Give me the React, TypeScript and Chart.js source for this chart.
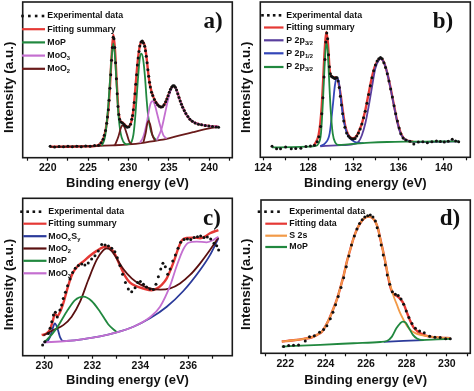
import React, { useEffect, useRef } from 'react';
import { Chart, registerables } from 'chart.js';
Chart.register(...registerables);

// ---------------- Panel a (Mo 3d) ----------------
const aExpX = [220.3,220.85,221.4,221.95,222.5,223.05,223.6,224.15,224.7,225.25,225.8,226.3,226.6,226.85,227.0,227.15,227.3,227.4,227.5,227.6,227.7,227.8,227.9,228.0,228.1,228.2,228.3,228.4,228.5,228.6,228.7,228.8,228.9,229.05,229.25,229.45,229.65,229.85,230.05,230.25,230.4,230.5,230.6,230.7,230.8,230.9,231.0,231.1,231.2,231.3,231.4,231.55,231.7,231.85,232.0,232.1,232.2,232.3,232.4,232.5,232.6,232.7,232.85,233.0,233.2,233.4,233.6,233.8,234.0,234.2,234.4,234.6,234.75,234.9,235.05,235.2,235.35,235.5,235.65,235.8,235.95,236.1,236.25,236.4,236.55,236.7,236.9,237.1,237.35,237.6,237.9,238.25,238.65,239.05,239.5,239.95,240.4,240.85,241.15];
const aExpY = [9.6,9.2,9.5,9.3,9.6,9.4,9.7,9.4,9.8,9.6,10.1,10.3,11.8,14.0,16.5,19.5,24.0,28.0,32.5,38.5,46.0,54.5,63.5,71.5,78.0,77.0,71.5,62.0,52.0,42.5,34.5,29.5,26.5,24.8,24.3,23.3,22.2,21.6,21.9,23.5,26.5,29.0,32.5,37.0,42.5,48.5,54.5,60.5,65.0,69.0,72.5,75.0,75.6,74.3,72.3,69.5,66.0,62.0,57.5,53.5,49.8,46.8,43.5,41.5,39.0,37.0,35.6,34.7,34.2,34.4,35.6,37.5,39.3,41.3,43.5,45.4,46.8,47.5,47.6,46.6,44.9,42.6,40.2,38.0,35.9,34.1,32.0,30.1,28.3,26.6,25.3,24.3,23.5,23.1,22.6,22.4,22.0,21.8,21.6];
const aFitX = [220.3,222.35,224.4,226.05,226.45,226.9,227.2,227.5,227.7,227.9,228.12,228.33,228.55,228.75,228.95,229.25,229.6,229.95,230.4,230.6,230.8,231.0,231.2,231.42,231.7,232.04,232.25,232.45,232.66,233.07,233.5,234.1,234.52,234.93,235.34,235.63,235.96,236.37,236.78,237.2,237.8,238.45,239.25,240.1,241.1];
const aFitY = [9.4,9.4,9.6,10.0,11.0,14.6,20.8,32.3,46.9,65.6,79.5,69.8,49.0,32.3,26.0,24.5,22.8,21.8,26.0,32.3,42.7,55.2,65.6,72.9,75.4,71.9,64.6,55.2,47.9,40.6,36.5,34.2,36.5,41.7,46.5,47.3,44.8,38.5,33.3,29.2,25.6,24.0,22.9,22.3,21.9];
const aMoPX = [226.7,227.09,227.3,227.51,227.71,227.92,228.12,228.33,228.54,228.74,229.03,229.36,229.77,230.19,230.6,230.8,231.01,231.22,231.42,231.6,231.83,232.04,232.25,232.45,232.74,233.07,233.48];
const aMoPY = [10.0,15.6,24.0,36.5,51.0,65.6,74.0,65.6,46.9,30.2,17.7,12.5,10.9,11.3,16.7,26.0,40.6,55.2,65.6,67.7,63.5,53.1,38.5,28.1,19.8,15.6,13.3];
const aMoO3aX = [231.42,231.83,232.25,232.54,232.74,232.95,233.2,233.48,233.9,234.31,234.72];
const aMoO3aY = [11.8,15.6,24.0,32.3,36.5,37.9,36.5,31.3,22.9,16.7,14.5];
const aMoO3bX = [233.48,234.1,234.52,234.93,235.22,235.55,235.88,236.29,236.78,237.2,237.81,238.43,239.26,240.08,241.11];
const aMoO3bY = [13.3,20.8,30.2,39.6,44.8,47.3,45.8,39.6,33.3,29.2,25.6,24.0,22.9,22.3,22.1];
const aMoO2aX = [228.33,228.74,229.03,229.24,229.48,229.77,230.1,230.39];
const aMoO2aY = [10.4,15.6,20.8,22.8,21.8,17.7,12.5,11.0];
const aMoO2bX = [231.83,232.12,232.33,232.49,232.7,232.95,233.28];
const aMoO2bY = [12.0,17.7,24.0,25.6,22.9,16.7,13.1];
const aBgX = [220.3,222,224,226,228,230,232,234,236,238,240,241.1];
const aBgY = [9.3,9.4,9.6,9.8,10.2,10.8,12.0,13.6,16.0,18.5,20.8,21.8];
const aTicks = [217.5,220,222.5,225,227.5,230,232.5,235,237.5,240,242.5];
const aMajor = [220,225,230,235,240];

// ---------------- Panel b (P 2p) ----------------
const bExpX = [124.8,125.2,125.55,126.0,126.5,126.9,127.35,127.8,128.2,128.55,128.8,128.95,129.1,129.2,129.3,129.4,129.48,129.56,129.64,129.72,129.8,129.88,129.96,130.05,130.15,130.25,130.35,130.45,130.55,130.65,130.75,130.85,130.95,131.05,131.15,131.25,131.4,131.55,131.7,131.85,132.0,132.15,132.3,132.45,132.6,132.75,132.9,133.05,133.2,133.35,133.5,133.65,133.8,133.95,134.1,134.25,134.4,134.55,134.7,134.85,135.0,135.15,135.3,135.45,135.6,135.75,135.9,136.05,136.2,136.4,136.65,137.0,137.35,137.75,138.15,138.55,138.95,139.35,139.7,140.05,140.4,140.75,141.05,141.32];
const bExpY = [9.6,8.1,8.0,9.1,8.1,8.2,8.3,9.4,9.8,10.2,12.5,15.5,22,30,40,53,64,75,80.5,77,67,59.5,55,53.5,53,52.5,52,52.5,52.5,50.5,46.5,41,35.5,30,25.5,21.5,18,16,15,14.3,14.2,14.5,16,18,20.5,23.5,27.5,31.5,36.5,42,47.5,52.5,57,60.5,63,64.5,65.2,64.5,62,59,55,50.5,45.5,40.5,35,30,25.5,21,17.5,14.8,13.5,12.8,11.0,12.3,12.5,11.8,12.4,12.9,12.6,12.3,12.8,14.0,12.9,12.5];
const bFitX = [128.5,128.78,128.93,129.07,129.2,129.31,129.46,129.6,129.75,129.9,130.05,130.25,130.45,130.6,130.75,130.9,131.08,131.29,131.5,131.7,131.88,132.05,132.3,132.47,132.76,133.06,133.35,133.65,133.94,134.24,134.44,134.68,134.97,135.27,135.56,135.86,136.15,136.45,136.89,137.3];
const bFitY = [10.0,13.5,17,24,35,49,69.8,81.3,74,57.3,53.5,52.7,52.7,51.5,47,40.6,31,22,17.5,15.3,14.6,14.8,16.3,18.75,24,32.3,42.7,53.1,60.4,64,64.6,62.5,56.25,46.9,36.5,26,18.75,14.6,12.9,12.5];
const bGreenX = [124.8,126.5,128.0,128.63,128.93,129.13,129.31,129.46,129.6,129.72,129.84,129.99,130.17,130.4,130.7,131.5,132.5,133.5,135.0,137.0,139.0,141.32];
const bGreenY = [8.9,9.1,9.4,9.8,11.5,17.7,38.5,61.5,74.4,69.8,53.1,32.3,17.7,11.9,10.4,10.8,11.4,11.9,12.3,12.5,12.6,12.7];
const bBlueX = [129.07,129.5,129.9,130.17,130.37,130.55,130.73,130.9,131.14,131.43,131.88,132.3,132.9];
const bBlueY = [9.7,11.5,17.7,34.4,48.0,52.7,49.0,38.5,26.0,17.7,13.5,11.9,11.6];
const bPurpleX = [129.07,130.5,132.0,132.47,132.76,133.06,133.35,133.65,133.94,134.24,134.44,134.68,134.97,135.27,135.56,135.86,136.15,136.45,136.89,137.63,141.32];
const bPurpleY = [9.6,10.2,11.0,12.5,16.7,24,34.4,46.9,58.3,63.5,64.4,62.5,56.25,46.5,36,25.6,18.1,14.6,12.9,12.3,12.7];
const bTicks = [124,126,128,130,132,134,136,138,140,142];
const bMajor = [124,128,132,136,140];

// ---------------- Panel c (Mo 3d, sample 2) ----------------
const cExpX = [229.93,230.03,230.17,230.24,230.31,230.38,230.46,230.54,230.65,230.72,230.79,230.88,230.97,231.07,231.18,231.29,231.42,231.56,231.69,231.83,231.97,232.11,232.25,232.39,232.53,232.67,232.81,232.94,233.04,233.15,233.26,233.38,233.5,233.64,233.78,233.89,234.0,234.13,234.26,234.4,234.54,234.65,234.75,234.85,234.94,235.04,235.14,235.24,235.35,235.46,235.57,235.68,235.82,235.96,236.1,236.24,236.38,236.51,236.65,236.79,236.93,237.07,237.18,237.26];
const cExpY = [9.3,11.3,16.5,19.6,23.7,27.8,29.5,26.6,30.9,34.0,38.1,41.9,46.0,50.1,54.2,56.7,58.4,59.4,58.8,60.0,62.5,64.5,67.4,71.5,71.1,70.5,69.1,67.0,63.3,58.4,53.0,48.0,43.9,42.3,44.7,48.0,48.5,46.8,45.2,43.9,43.7,46.8,51.5,56.3,59.8,57.7,53.0,56.3,61.2,65.0,69.1,72.8,74.6,74.8,74.6,75.7,76.3,76.7,75.7,76.1,74.8,72.2,70.7,68.0];
const cFitX = [229.89,230.1,230.24,230.35,230.44,230.54,230.65,230.79,230.93,231.07,231.21,231.42,231.63,231.9,232.18,232.46,232.6,232.74,232.94,233.15,233.36,233.57,233.85,234.13,234.47,234.68,234.89,235.1,235.31,235.44,235.58,235.72,235.93,236.21,236.49,236.69,236.9,237.25];
const cFitY = [15.5,16.5,19,24,28.5,27.2,29.5,35,42.5,49.5,54.5,58.5,61,64.5,67.5,69.8,70.2,69.3,65.5,58.5,52,47.8,45.5,44.2,43.2,44.2,46.5,50.5,57.7,62.9,69.1,73.8,75.5,75.7,75.3,76.3,78.4,80.4];
const cNavyX = [229.96,230.1,230.24,230.35,230.44,230.54,230.65,230.79,231.63,232.32,233.01,233.71,234.4,235.1,235.79,236.49,236.9,237.25];
const cNavyY = [10.9,11.3,14.4,19.6,22.7,20.0,14.4,11.8,13.0,14.6,17.1,20.6,25.8,33.0,42.7,55.7,64.9,75.3];
const cBrownX = [229.96,230.38,230.79,231.14,231.49,231.83,232.18,232.46,232.6,232.81,233.01,233.29,233.64,233.99,234.4,234.82,235.24,235.65,236.07,236.49,236.9,237.25];
const cBrownY = [15.1,18.6,21.6,26.8,36.1,49.5,61.9,68.0,69.1,67.4,62.9,56.3,50.5,46.8,44.3,43.5,44.3,47.4,52.6,59.8,68.0,75.7];
const cGreenX = [229.96,230.1,230.51,230.93,231.28,231.63,231.97,232.32,232.67,233.01];
const cGreenY = [11.0,12.5,19.6,29.9,37.1,39.2,36.5,29.9,22.0,17.3];
const cPurpleX = [229.96,230.93,231.63,232.32,233.01,233.71,234.4,234.82,235.24,235.51,235.79,236.0,236.35,236.76,237.04,237.25];
const cPurpleY = [10.9,11.8,13.0,14.6,17.1,20.6,26.5,33.0,46.0,58.0,68.5,72.5,73.2,72.8,74.2,76.3];
const cTicks = [230,231,232,233,234,235,236,237];
const cMajor = [230,232,234,236];

// ---------------- Panel d (S 2s) ----------------
const dExpX = [221.92,222.17,222.41,222.66,222.99,223.2,223.44,223.7,223.9,224.06,224.23,224.36,224.49,224.62,224.76,224.89,225.02,225.15,225.28,225.42,225.55,225.68,225.81,225.94,226.08,226.21,226.34,226.46,226.55,226.65,226.75,226.85,226.95,227.05,227.17,227.3,227.45,227.59,227.73,227.86,227.99,228.12,228.27,228.44,228.65,228.88,229.15,229.41,229.67,229.94,230.17];
const dExpY = [6.8,7.4,7.6,7.8,10.4,13.1,13.6,15.9,17.6,20.1,24.4,28.6,33.3,38.6,44.3,50.6,57.6,64.4,71.4,77.1,81.6,85.0,87.5,89.2,90.0,90.5,89.2,86.7,82.4,77.3,71.4,65.0,58.7,52.3,46.4,41.7,40.0,39.2,37.1,33.7,29.4,25.2,21.4,18.4,16.7,15.5,13.3,12.7,12.5,11.7,11.7];
const dFitX = [221.83,222.41,222.91,223.32,223.57,223.82,223.98,224.19,224.39,224.56,224.72,224.89,225.05,225.22,225.38,225.55,225.71,225.91,226.13,226.29,226.46,226.59,226.7,226.83,226.95,227.1,227.23,227.36,227.53,227.69,227.86,228.02,228.19,228.35,228.6,228.85,229.18,229.67,230.17];
const dFitY = [10.0,10.8,11.7,12.7,14.2,16.3,19.5,24.8,31.1,36.9,43.9,51.9,60.8,68.6,75.6,81.4,85.2,88.3,89.4,88.8,86.2,82.0,75.6,68.2,60.8,50.5,43.5,40.2,39.0,37.1,34.0,28.5,23.0,19.0,15.9,14.2,13.1,12.5,12.1];
const dS2sX = [221.83,222.41,222.91,223.32,223.57,223.82,223.98,224.19,224.39,224.56,224.72,224.89,225.05,225.22,225.38,225.55,225.71,225.91,226.13,226.29,226.46,226.59,226.7,226.83,226.95,227.07,227.2,227.36,227.53,227.69,227.86,228.02,228.19,228.44,228.68,229.18,229.67,230.17];
const dS2sY = [10.0,10.8,11.7,12.7,14.2,16.3,19.5,24.8,31.1,36.9,43.9,51.9,60.8,68.6,75.6,81.4,85.2,88.3,89.4,88.8,86.2,82.0,75.6,68.2,60.8,53.4,46.0,39.0,33.3,28.0,23.7,20.1,17.4,15.3,14.2,13.1,12.5,12.1];
const dMoPX = [221.83,223.73,225.38,226.7,227.03,227.28,227.5,227.69,227.82,227.96,228.11,228.32,228.52,228.77,229.51,230.17];
const dMoPY = [6.8,7.9,8.9,9.7,10.3,13.1,18.4,21.6,22.7,22.0,18.9,14.2,11.9,10.9,11.3,11.7];
const dBgX = [226.87,227.86,228.85];
const dBgY = [9.76,10.34,10.92];
const dTicks = [221,222,223,224,225,226,227,228,229,230,231];
const dMajor = [222,224,226,228,230];

// ---------------- Legends ----------------
type Seg = [string, boolean];
type LegItem = { label: Seg[]; color: string; dotted?: boolean };
const legA: LegItem[] = [
  { label: [['Experimental data', false]], color: '#111', dotted: true },
  { label: [['Fitting summary', false]], color: '#e53935' },
  { label: [['MoP', false]], color: '#21883f' },
  { label: [['MoO', false], ['3', true]], color: '#c46fd0' },
  { label: [['MoO', false], ['2', true]], color: '#6a1b1b' },
];
const legB: LegItem[] = [
  { label: [['Experimental data', false]], color: '#111', dotted: true },
  { label: [['Fitting summary', false]], color: '#e53935' },
  { label: [['P 2p', false], ['3/2', true]], color: '#5a3f9e' },
  { label: [['P 2p', false], ['1/2', true]], color: '#3346b8' },
  { label: [['P 2p', false], ['3/2', true]], color: '#21883f' },
];
const legC: LegItem[] = [
  { label: [['Experimental data', false]], color: '#111', dotted: true },
  { label: [['Fitting summary', false]], color: '#e53935' },
  { label: [['MoO', false], ['x', true], ['S', false], ['y', true]], color: '#2b3a9a' },
  { label: [['MoO', false], ['2', true]], color: '#5a1010' },
  { label: [['MoP', false]], color: '#21883f' },
  { label: [['MoO', false], ['3', true]], color: '#c46fd0' },
];
const legD: LegItem[] = [
  { label: [['Experimental data', false]], color: '#111', dotted: true },
  { label: [['Fitting data', false]], color: '#e53935' },
  { label: [['S 2s', false]], color: '#f29a48' },
  { label: [['MoP', false]], color: '#21883f' },
];

const SANS = '"Liberation Sans", Arial, sans-serif';

const decoPlugin = {
  id: 'panelDeco',
  afterDraw(chart: any, _a: any, o: any) {
    const { ctx, chartArea } = chart;
    ctx.save();
    ctx.strokeStyle = '#1a1a1a';
    ctx.lineWidth = 1.6;
    ctx.strokeRect(chartArea.left, chartArea.top, chartArea.right - chartArea.left, chartArea.bottom - chartArea.top);
    const items = o.items || [];
    items.forEach((it: any, i: number) => {
      const y = o.rows[i];
      if (it.dotted) {
        ctx.fillStyle = '#111';
        const [d0, d1] = o.dotX;
        for (let k = 0; k < 4; k++) {
          const cx = d0 + k * ((d1 - d0) / 3);
          ctx.fillRect(cx - 1.3, y - 1.3, 2.6, 2.6);
        }
      } else {
        ctx.strokeStyle = it.color;
        ctx.lineWidth = 2.2;
        ctx.beginPath();
        ctx.moveTo(o.lineX[0], y);
        ctx.lineTo(o.lineX[1], y);
        ctx.stroke();
      }
      let tx = o.textX;
      ctx.fillStyle = '#111';
      ctx.textBaseline = 'middle';
      ctx.textAlign = 'left';
      it.label.forEach(([t, sub]: Seg) => {
        ctx.font = sub ? `bold 5.8px ${SANS}` : `bold 8.8px ${SANS}`;
        ctx.fillText(t, tx, sub ? y + 2.8 : y);
        tx += ctx.measureText(t).width + (sub ? 0.3 : 0);
      });
    });
    ctx.font = 'bold 23px "Liberation Serif", "Times New Roman", serif';
    ctx.textAlign = 'center';
    ctx.textBaseline = 'middle';
    ctx.fillStyle = '#111';
    ctx.fillText(o.tag, o.tagX, o.tagY);
    ctx.restore();
  },
};

const pts = (xs: number[], ys: number[]) => {
  const n = Math.min(xs.length, ys.length);
  const out: { x: number; y: number }[] = [];
  for (let i = 0; i < n; i++) out.push({ x: xs[i], y: ys[i] });
  return out;
};
const expSet = (xs: number[], ys: number[]) => ({
  data: pts(xs, ys), showLine: false, pointRadius: 1.5, pointBackgroundColor: '#111', pointBorderWidth: 0, borderColor: '#111',
});
const lineSet = (xs: number[], ys: number[], color: string, w = 1.8) => ({
  data: pts(xs, ys), showLine: true, pointRadius: 0, borderColor: color, borderWidth: w, cubicInterpolationMode: 'monotone', fill: false,
});

type PanelDef = {
  left: number; top: number; w: number; h: number;
  xmin: number; xmax: number; ymin: number; ymax: number;
  ticks: number[]; major: number[];
  yW: number; padR: number; padT: number; xH: number; titlePadB: number;
  datasets: any[];
  deco: any;
};

const RED = '#e53935';
const GREEN = '#21883f';

const panels: PanelDef[] = [
  {
    left: 0, top: 0, w: 237, h: 195, xmin: 216.9, xmax: 242.85, ymin: 2.5, ymax: 100,
    ticks: aTicks, major: aMajor, yW: 22.7, padR: 4.7, padT: 2, xH: 37.3, titlePadB: 4,
    datasets: [
      expSet(aExpX, aExpY),
      lineSet(aMoO2aX, aMoO2aY, '#6a1b1b'),
      lineSet(aMoO2bX, aMoO2bY, '#6a1b1b'),
      lineSet(aMoO3aX, aMoO3aY, '#c46fd0'),
      lineSet(aMoO3bX, aMoO3bY, '#c46fd0'),
      lineSet(aMoPX, aMoPY, GREEN),
      lineSet(aBgX, aBgY, '#6a1b1b'),
      lineSet(aFitX, aFitY, RED, 2.4),
    ],
    deco: { items: legA, rows: [16, 29.2, 42.4, 55.6, 68.8], dotX: [22.5, 43], lineX: [22, 45], textX: 47.3, tag: 'a)', tagX: 213, tagY: 22 },
  },
  {
    left: 237, top: 0, w: 237, h: 195, xmin: 123.76, xmax: 142.35, ymin: 2.7, ymax: 100,
    ticks: bTicks, major: bMajor, yW: 23.3, padR: 3.7, padT: 2, xH: 37.7, titlePadB: 4,
    datasets: [
      expSet(bExpX, bExpY),
      lineSet(bGreenX, bGreenY, GREEN),
      lineSet(bBlueX, bBlueY, '#3346b8'),
      lineSet(bPurpleX, bPurpleY, '#5a3f9e'),
      lineSet(bFitX, bFitY, RED, 2.4),
    ],
    deco: { items: legB, rows: [15.3, 27.5, 40.3, 53.3, 67], dotX: [25.5, 43], lineX: [27, 46.5], textX: 49.3, tag: 'b)', tagX: 206, tagY: 22 },
  },
  {
    left: 0, top: 195, w: 237, h: 196, xmin: 229.1, xmax: 237.83, ymin: 2.7, ymax: 100,
    ticks: cTicks, major: cMajor, yW: 22.7, padR: 4.7, padT: 3.3, xH: 35.3, titlePadB: 3,
    datasets: [
      expSet(cExpX, cExpY),
      lineSet(cPurpleX, cPurpleY, '#c46fd0'),
      lineSet(cGreenX, cGreenY, GREEN),
      lineSet(cBrownX, cBrownY, '#5a1010'),
      lineSet(cNavyX, cNavyY, '#2b3a9a'),
      lineSet(cFitX, cFitY, RED, 2.4),
    ],
    deco: { items: legC, rows: [16.7, 28.7, 41.2, 53.5, 65.8, 78.3], dotX: [21.5, 40], lineX: [23.3, 46.5], textX: 48.3, tag: 'c)', tagX: 212, tagY: 24 },
  },
  {
    left: 237, top: 195, w: 237, h: 196, xmin: 220.8, xmax: 231.16, ymin: 2.5, ymax: 100,
    ticks: dTicks, major: dMajor, yW: 24, padR: 3.7, padT: 5, xH: 37.7, titlePadB: 3,
    datasets: [
      expSet(dExpX, dExpY),
      lineSet(dMoPX, dMoPY, GREEN),
      lineSet(dBgX, dBgY, '#2b3a9a'),
      lineSet(dS2sX, dS2sY, '#f29a48'),
      lineSet(dFitX, dFitY, RED, 2.4),
    ],
    deco: { items: legD, rows: [16.7, 28.7, 40.7, 52], dotX: [22, 41.5], lineX: [28.3, 50], textX: 52.3, tag: 'd)', tagX: 213, tagY: 24 },
  },
];

function Panel({ p }: { p: PanelDef }) {
  const ref = useRef<HTMLCanvasElement | null>(null);
  useEffect(() => {
    if (!ref.current) return;
    const chart = new Chart(ref.current, {
      type: 'scatter',
      data: { datasets: p.datasets },
      plugins: [decoPlugin],
      options: {
        animation: false,
        responsive: false,
        devicePixelRatio: 1,
        layout: { padding: { left: 0, right: p.padR, top: p.padT, bottom: 0 }, autoPadding: false },
        plugins: { legend: { display: false }, tooltip: { enabled: false }, panelDeco: p.deco } as any,
        scales: {
          x: {
            type: 'linear', min: p.xmin, max: p.xmax,
            afterBuildTicks: (s: any) => { s.ticks = p.ticks.map((v) => ({ value: v })); },
            afterFit: (s: any) => { s.height = p.xH; },
            ticks: {
              autoSkip: false, maxRotation: 0, padding: 1.5, color: '#111',
              font: { family: SANS, size: 10.5, weight: 'bold' },
              callback: (v: any) => (p.major.includes(Number(v)) ? String(v) : ''),
            },
            grid: { display: true, drawOnChartArea: false, drawTicks: true, tickLength: 3, tickColor: '#111', tickWidth: 1.2 },
            border: { display: false },
            title: { display: true, text: 'Binding energy (eV)', color: '#111', font: { family: SANS, size: 13, weight: 'bold' }, padding: { top: 0, bottom: p.titlePadB } },
          },
          y: {
            type: 'linear', min: p.ymin, max: p.ymax,
            afterFit: (s: any) => { s.width = p.yW; },
            ticks: { display: false },
            grid: { display: false },
            border: { display: false },
            title: { display: true, text: 'Intensity (a.u.)    ', color: '#111', font: { family: SANS, size: 13.5, weight: 'bold' }, padding: { top: 1.5, bottom: 0 } },
          },
        },
      } as any,
    });
    return () => chart.destroy();
  }, [p]);
  return (
    <div style={{ position: 'absolute', left: p.left, top: p.top, width: p.w, height: p.h }}>
      <canvas ref={ref} width={p.w} height={p.h} style={{ width: p.w, height: p.h, display: 'block' }} />
    </div>
  );
}

export default function App() {
  return (
    <div style={{ position: 'fixed', left: 0, top: 0, width: 474, height: 391, background: '#fff', overflow: 'hidden' }}>
      {panels.map((p, i) => <Panel key={i} p={p} />)}
    </div>
  );
}
